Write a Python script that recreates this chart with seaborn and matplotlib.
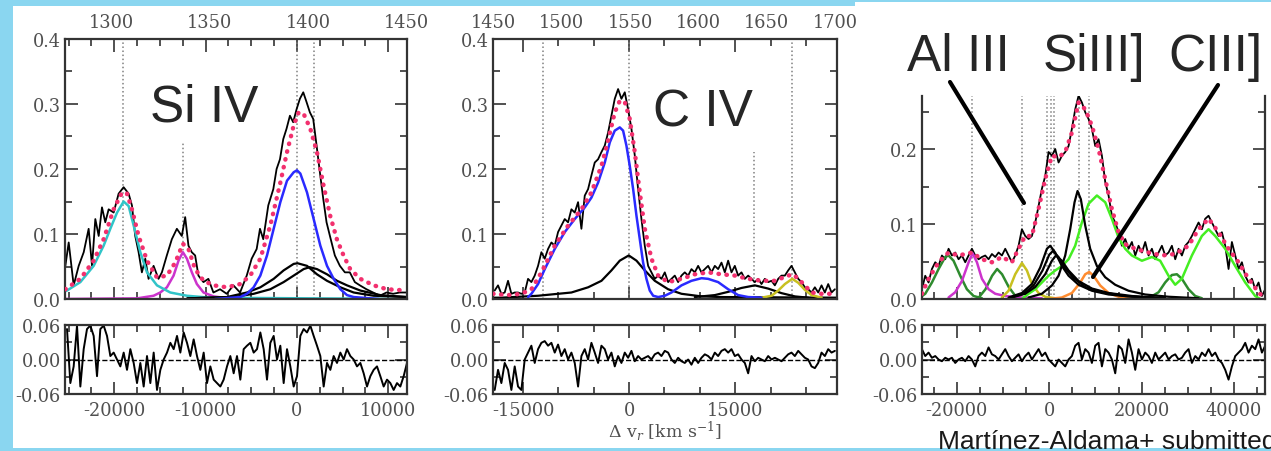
import numpy as np
import matplotlib
matplotlib.use('Agg')
import matplotlib.pyplot as plt
from matplotlib.lines import Line2D
from matplotlib.patches import Rectangle
from matplotlib.ticker import MultipleLocator, FormatStrFormatter
import seaborn as sns

sns.set_style('ticks')
plt.rcParams['font.family'] = ['DejaVu Serif']
plt.rcParams['mathtext.fontset'] = 'dejavuserif'
plt.rcParams['axes.unicode_minus'] = False

C_KMS = 299792.458
W, H = 1271, 452

# ---------------- Si IV panel (velocity km/s, flux) ----------------
si_obs_v = [-25360, -24995, -24450, -23900, -23350, -22810, -22440, -22080, -21710, -21350,
            -20990, -20620, -20070, -19530, -18980, -18430, -18070, -17710, -17340, -16980,
            -16610, -16250, -15700, -15160, -14790, -14250, -13700, -13150, -12610, -12240,
            -11880, -11520, -11150, -10790, -10240, -9700, -9150, -8420, -7690, -6960,
            -6230, -5500, -4960, -4410, -4050, -3690, -3140, -2590, -2230, -1860,
            -1500, -1140, -770, -410, -40, 320, 690, 1050, 1420, 1780,
            2150, 2510, 2880, 3240, 3610, 4150, 4700, 5250, 5790, 6340,
            6890, 7610, 8340, 9070, 9800, 10530, 11260, 11990]
si_obs_f = [0.051, 0.087, 0.021, 0.051, 0.072, 0.108, 0.051, 0.123, 0.097, 0.141,
            0.118, 0.138, 0.133, 0.162, 0.172, 0.162, 0.144, 0.097, 0.072, 0.041,
            0.062, 0.031, 0.051, 0.031, 0.041, 0.067, 0.092, 0.108, 0.097, 0.126,
            0.082, 0.072, 0.067, 0.036, 0.026, 0.031, 0.010, 0.015, 0.008, 0.021,
            0.010, 0.036, 0.062, 0.077, 0.108, 0.092, 0.144, 0.169, 0.200, 0.215,
            0.246, 0.262, 0.282, 0.272, 0.292, 0.308, 0.318, 0.303, 0.287, 0.277,
            0.236, 0.195, 0.154, 0.118, 0.097, 0.067, 0.051, 0.041, 0.041, 0.026,
            0.021, 0.015, 0.010, 0.005, 0.010, 0.008, 0.010, 0.010]
si_res = [0.053, -0.041, -0.012, 0.059, -0.047, 0.018, 0.053, 0.059, 0.041, -0.029,
          0.053, 0.059, 0.041, 0.006, 0.012, 0.0, -0.012, 0.012, -0.018, 0.018,
          -0.006, -0.041, -0.006, -0.047, 0.006, -0.041, 0.012, -0.053, -0.018, 0.0,
          0.012, 0.029, 0.018, 0.041, 0.012, 0.047, 0.029, 0.006, 0.035, 0.006,
          -0.018, 0.012, -0.041, -0.012, -0.035, -0.041, -0.047, -0.035, -0.012, 0.006,
          -0.024, 0.006, -0.035, 0.018, 0.024, 0.029, 0.012, 0.018, 0.047, 0.018,
          -0.035, 0.029, 0.041, 0.0, 0.024, -0.041, 0.018, -0.012, -0.047, -0.029,
          0.041, 0.053, 0.047, 0.059, 0.041, 0.024, 0.006, -0.047, -0.006, -0.018,
          0.006, -0.006, 0.012, 0.0, 0.018, 0.006, 0.0, -0.012, -0.006, -0.024,
          -0.047, -0.029, -0.018, -0.012, -0.029, -0.047, -0.035, -0.041, -0.053, -0.041,
          -0.047, -0.029, -0.006]
si_cyan_v = [-25900, -25180, -23720, -22260, -21170, -20440, -19700, -18980, -18430, -17880,
             -17150, -16420, -15330, -13870, -12050, -9500, 12050]
si_cyan_f = [0.010, 0.013, 0.026, 0.051, 0.082, 0.108, 0.133, 0.150, 0.143, 0.113,
             0.072, 0.041, 0.021, 0.010, 0.005, 0.002, 0.0]
si_mag_v = [-25900, -17500, -15700, -14970, -14240, -13510, -12970, -12490, -12050, -11510,
            -10960, -10230, -9130, -7000]
si_mag_f = [0.0, 0.001, 0.005, 0.010, 0.018, 0.036, 0.059, 0.072, 0.062, 0.041,
            0.023, 0.010, 0.004, 0.0]
si_blue_v = [-9000, -6210, -5480, -4740, -4010, -3280, -2550, -1820, -1090, -360,
             0, 370, 1100, 1830, 2560, 3290, 4020, 4750, 5480, 6210, 9000]
si_blue_f = [0.0, 0.003, 0.008, 0.018, 0.036, 0.067, 0.108, 0.149, 0.182, 0.195,
             0.198, 0.193, 0.164, 0.123, 0.082, 0.051, 0.031, 0.015, 0.006, 0.003, 0.0]
si_blk1_v = [-12000, -7670, -5480, -4010, -2550, -1460, -360, 70, 1100, 2190,
             3290, 4750, 6210, 8400, 12050]
si_blk1_f = [0.001, 0.003, 0.010, 0.018, 0.031, 0.044, 0.054, 0.055, 0.051, 0.038,
             0.028, 0.018, 0.010, 0.005, 0.003]
si_blk2_v = [-12000, -6940, -4740, -2920, -1460, -360, 730, 1390, 2190, 3290,
             4390, 5480, 6940, 9130, 12050]
si_blk2_f = [0.001, 0.003, 0.008, 0.015, 0.026, 0.036, 0.046, 0.049, 0.046, 0.038,
             0.028, 0.021, 0.013, 0.006, 0.003]
si_fit_v = [-25360, -23720, -22260, -21170, -20070, -19160, -18610, -18070, -17340, -16420,
            -15330, -14240, -13330, -12490, -11880, -11150, -10230, -9130, -7670, -6210,
            -5120, -4010, -2920, -1820, -1090, -360, 180, 730, 1460, 2190,
            2920, 3640, 4370, 5100, 5830, 6940, 8400, 9860, 12050]
si_fit_f = [0.015, 0.031, 0.059, 0.092, 0.138, 0.164, 0.162, 0.138, 0.097, 0.059,
            0.033, 0.036, 0.056, 0.085, 0.077, 0.046, 0.028, 0.021, 0.018, 0.023,
            0.036, 0.062, 0.113, 0.179, 0.226, 0.267, 0.287, 0.285, 0.262, 0.226,
            0.174, 0.128, 0.092, 0.067, 0.046, 0.031, 0.021, 0.015, 0.013]
si_marks = [-19000, -12500, 0, 1900]
si_marks_top = [0.4, 0.24, 0.4, 0.4]
si_wave_ticks = [1300, 1350, 1400, 1450]

# ---------------- C IV panel ----------------
c4_obs_f = [0.013, 0.021, 0.008, 0.010, 0.028, 0.008, 0.010, 0.010, 0.008, 0.010,
            0.031, 0.026, 0.036, 0.051, 0.072, 0.062, 0.077, 0.087, 0.082, 0.103,
            0.113, 0.123, 0.118, 0.138, 0.133, 0.149, 0.108, 0.159, 0.169, 0.190,
            0.210, 0.215, 0.226, 0.236, 0.256, 0.282, 0.308, 0.323, 0.308, 0.318,
            0.292, 0.262, 0.221, 0.169, 0.123, 0.082, 0.051, 0.041, 0.031, 0.036,
            0.031, 0.041, 0.026, 0.031, 0.036, 0.026, 0.036, 0.041, 0.036, 0.046,
            0.041, 0.051, 0.041, 0.046, 0.051, 0.041, 0.051, 0.046, 0.056, 0.041,
            0.059, 0.041, 0.051, 0.036, 0.041, 0.031, 0.036, 0.031, 0.026, 0.031,
            0.023, 0.031, 0.026, 0.028, 0.021, 0.031, 0.036, 0.036, 0.044, 0.051,
            0.041, 0.031, 0.026, 0.018, 0.015, 0.010, 0.018, 0.010, 0.021, 0.010,
            0.023, 0.010, 0.015]
c4_res = [-0.053, -0.018, -0.041, -0.006, -0.018, -0.053, -0.012, -0.047, -0.053, 0.0,
          0.012, 0.024, -0.006, 0.018, 0.029, 0.032, 0.024, 0.029, 0.012, 0.026,
          0.006, 0.018, 0.0, 0.012, -0.006, -0.047, 0.006, 0.018, 0.0, 0.029,
          0.012, -0.006, 0.024, 0.018, 0.0, 0.012, -0.012, 0.006, -0.006, 0.012,
          0.003, 0.015, -0.003, 0.006, 0.0, 0.003, 0.006, 0.0, 0.009, 0.012,
          0.006, 0.015, 0.012, 0.0, -0.006, 0.003, -0.003, -0.006, 0.0, -0.009,
          0.003, -0.006, 0.003, 0.009, 0.006, 0.0, 0.012, 0.006, 0.015, 0.018,
          0.012, 0.018, 0.006, 0.009, 0.0, -0.006, -0.024, 0.006, -0.003, 0.003,
          0.0, -0.003, 0.006, 0.0, 0.003, 0.0, -0.003, 0.003, 0.009, 0.012,
          0.006, 0.015, 0.009, 0.003, 0.0, -0.012, -0.015, -0.006, 0.012, 0.006,
          0.018, 0.012, 0.015]
c4_blue_v = [-14290, -13820, -12880, -11930, -10520, -9100, -7690, -6270, -5330, -4390,
             -3440, -2730, -2030, -1320, -850, -380, 90, 570, 1040, 1510,
             1980, 2450, 2920, 3400, 4110, 5050, 5990, 7410, 8820, 10240,
             11180, 12590, 14010, 15420, 16840, 18730]
c4_blue_f = [0.003, 0.008, 0.023, 0.046, 0.077, 0.103, 0.123, 0.141, 0.156, 0.179,
             0.210, 0.241, 0.259, 0.264, 0.259, 0.236, 0.205, 0.169, 0.128, 0.092,
             0.056, 0.031, 0.013, 0.005, 0.003, 0.005, 0.010, 0.021, 0.028, 0.032,
             0.031, 0.026, 0.015, 0.006, 0.003, 0.002]
c4_blk1_v = [-19300, -18070, -12880, -8160, -5800, -3910, -2500, -1320, -50, 1040,
             2220, 3630, 5520, 7410, 10240, 13070, 29500]
c4_blk1_f = [0.002, 0.002, 0.005, 0.010, 0.018, 0.028, 0.044, 0.059, 0.067, 0.059,
             0.044, 0.028, 0.015, 0.008, 0.004, 0.003, 0.002]
c4_blk2_v = [9290, 12120, 14010, 15900, 17780, 19670, 21560, 23450, 25330]
c4_blk2_f = [0.003, 0.006, 0.011, 0.017, 0.021, 0.016, 0.009, 0.004, 0.002]
c4_yel_v = [18730, 20150, 21090, 22030, 23070, 23920, 24860, 25800, 27220]
c4_yel_f = [0.002, 0.005, 0.013, 0.023, 0.031, 0.025, 0.014, 0.006, 0.002]
c4_fit_v = [-19240, -17130, -15230, -13820, -12400, -10520, -8630, -6740, -5330, -3910,
            -2970, -2030, -1320, -610, 90, 800, 1510, 2220, 3160, 4110,
            5520, 7410, 9290, 11180, 13070, 14950, 16840, 18730, 20620, 22500,
            23210, 24390, 25800, 27220, 29100]
c4_fit_f = [0.008, 0.006, 0.008, 0.015, 0.041, 0.082, 0.113, 0.138, 0.164, 0.205,
            0.244, 0.287, 0.305, 0.303, 0.277, 0.226, 0.164, 0.108, 0.062, 0.036,
            0.026, 0.031, 0.038, 0.041, 0.038, 0.036, 0.031, 0.028, 0.028, 0.036,
            0.038, 0.026, 0.010, 0.008, 0.008]
c4_marks = [-12170, 0, 17700, 23070]
c4_marks_top = [0.4, 0.4, 0.226, 0.4]
c4_wave_ticks = [1450, 1500, 1550, 1600, 1650, 1700]

# ---------------- Al III / Si III] / C III] panel ----------------
c3_obs_f = [0.013, 0.031, 0.022, 0.040, 0.049, 0.044, 0.058, 0.053, 0.067, 0.058,
            0.062, 0.053, 0.058, 0.049, 0.058, 0.067, 0.058, 0.053, 0.056, 0.058,
            0.053, 0.060, 0.056, 0.062, 0.058, 0.067, 0.058, 0.049, 0.058, 0.071,
            0.093, 0.084, 0.080, 0.084, 0.102, 0.124, 0.147, 0.164, 0.196, 0.191,
            0.200, 0.182, 0.191, 0.196, 0.204, 0.227, 0.253, 0.271, 0.262, 0.249,
            0.240, 0.227, 0.204, 0.213, 0.191, 0.156, 0.138, 0.111, 0.102, 0.089,
            0.071, 0.080, 0.067, 0.076, 0.058, 0.071, 0.062, 0.076, 0.058, 0.067,
            0.053, 0.062, 0.071, 0.058, 0.062, 0.071, 0.053, 0.067, 0.058, 0.071,
            0.076, 0.084, 0.093, 0.102, 0.093, 0.107, 0.111, 0.102, 0.093, 0.084,
            0.089, 0.071, 0.040, 0.076, 0.058, 0.040, 0.049, 0.031, 0.022, 0.027,
            0.013, 0.022, 0.004, 0.013]
c3_res = [0.018, 0.006, 0.012, 0.003, 0.006, 0.0, -0.003, 0.003, 0.0, 0.003,
          -0.006, 0.0, 0.003, -0.003, 0.006, 0.0, -0.012, 0.006, 0.012, 0.006,
          0.021, 0.009, 0.006, 0.0, 0.009, 0.018, 0.006, -0.003, 0.003, 0.009,
          -0.003, 0.006, 0.012, 0.0, 0.009, 0.018, 0.006, 0.012, 0.0, -0.006,
          -0.012, 0.0, -0.006, -0.012, 0.0, 0.006, 0.024, 0.029, 0.0, 0.018,
          0.012, -0.006, 0.024, 0.029, -0.012, 0.018, 0.012, 0.0, -0.024, 0.024,
          0.018, -0.006, 0.035, 0.012, -0.018, 0.018, 0.0, 0.012, 0.006, -0.006,
          0.012, 0.0, 0.006, 0.012, 0.0, 0.006, 0.009, 0.0, 0.003, 0.012,
          0.018, -0.006, 0.006, 0.0, 0.012, 0.006, 0.018, 0.006, 0.012, 0.0,
          -0.006, -0.018, -0.035, -0.012, 0.006, 0.012, 0.018, 0.029, 0.012, 0.024,
          0.018, 0.035, 0.012, 0.024]
c3_dg1_v = [-27750, -26840, -25390, -23950, -22510, -21790, -20710, -19260, -17820, -16370, -14570]
c3_dg1_f = [0.003, 0.007, 0.022, 0.040, 0.056, 0.058, 0.051, 0.031, 0.013, 0.004, 0.001]
c3_dg2_v = [-15250, -13800, -12360, -11280, -10210, -8760, -7320, -5880]
c3_dg2_f = [0.002, 0.013, 0.031, 0.040, 0.033, 0.016, 0.004, 0.001]
c3_dg3_v = [21500, 23670, 25100, 26550, 27630, 28710, 30160, 31600, 33040]
c3_dg3_f = [0.001, 0.009, 0.022, 0.032, 0.033, 0.027, 0.013, 0.004, 0.001]
c3_mag_v = [-21790, -20350, -18900, -17450, -16590, -15650, -14570, -13120, -11690, -9520, -5910, -1590]
c3_mag_f = [0.002, 0.009, 0.024, 0.049, 0.061, 0.049, 0.027, 0.013, 0.007, 0.004, 0.002, 0.001]
c3_yel_v = [-10240, -8800, -7360, -5910, -4830, -3750, -2310, -870, 1300]
c3_yel_f = [0.002, 0.011, 0.033, 0.048, 0.038, 0.020, 0.008, 0.003, 0.001]
c3_blka_v = [-8800, -5910, -3750, -1950, -500, 210, 1300, 2740, 4190, 6350, 9240, 12850, 17890, 25100]
c3_blka_f = [0.002, 0.008, 0.020, 0.042, 0.067, 0.071, 0.062, 0.044, 0.031, 0.019, 0.011, 0.006, 0.003, 0.001]
c3_blkb_v = [-8080, -5200, -3030, -870, 580, 1450, 2740, 4190, 6350, 9240, 12850, 17890, 25100]
c3_blkb_f = [0.002, 0.007, 0.016, 0.033, 0.051, 0.058, 0.051, 0.038, 0.024, 0.014, 0.008, 0.004, 0.001]
c3_blkc_v = [-8440, -5550, -3390, -1450, 0, 790, 2010, 3460, 5260, 7790, 11400, 16450, 24390]
c3_blkc_f = [0.002, 0.007, 0.018, 0.038, 0.059, 0.064, 0.056, 0.041, 0.028, 0.016, 0.009, 0.004, 0.001]
c3_blkd_v = [-4470, -1590, 580, 2020, 3460, 4540, 5480, 6130, 6850, 7790,
             8870, 10320, 12120, 14280, 17170, 20770, 25830, 32320]
c3_blkd_f = [0.002, 0.007, 0.018, 0.031, 0.058, 0.093, 0.129, 0.144, 0.133, 0.098,
             0.067, 0.044, 0.029, 0.019, 0.011, 0.006, 0.003, 0.001]
c3_org_v = [-140, 2740, 4910, 6710, 7790, 8660, 9590, 11040, 12850, 15010, 17890]
c3_org_f = [0.0, 0.002, 0.008, 0.022, 0.033, 0.036, 0.031, 0.018, 0.008, 0.003, 0.0]
c3_lime_v = [-5910, -4470, -3030, -1590, -140, 1300, 2740, 4190, 5620, 7070,
             8520, 10320, 12120, 13560, 15010, 16450, 17890, 20060, 22220, 24020,
             25830, 27270, 28710, 30880, 33040, 34490, 35930, 38100, 40260, 42430,
             44590, 45670]
c3_lime_f = [0.0, 0.007, 0.013, 0.022, 0.031, 0.038, 0.044, 0.053, 0.071, 0.102,
             0.127, 0.138, 0.129, 0.107, 0.082, 0.067, 0.058, 0.051, 0.056, 0.051,
             0.031, 0.019, 0.027, 0.058, 0.084, 0.093, 0.084, 0.067, 0.044, 0.022,
             0.004, 0.0]
c3_fit_v = [-27560, -26110, -23950, -21790, -19630, -16740, -14570, -12410, -10240, -8080,
            -6640, -5200, -3750, -2310, -870, 580, 2010, 3460, 4910, 6350,
            7790, 9240, 10680, 12120, 13560, 15010, 16450, 18610, 21500, 24390,
            27270, 30160, 32320, 34490, 36650, 38820, 40980, 43140, 45310, 46390]
c3_fit_f = [0.007, 0.027, 0.049, 0.062, 0.058, 0.062, 0.053, 0.049, 0.056, 0.049,
            0.067, 0.084, 0.084, 0.120, 0.160, 0.191, 0.189, 0.196, 0.222, 0.262,
            0.253, 0.231, 0.200, 0.160, 0.120, 0.089, 0.073, 0.067, 0.062, 0.058,
            0.060, 0.071, 0.093, 0.107, 0.089, 0.067, 0.049, 0.027, 0.009, 0.002]
c3_marks = [-16610, -5890, -430, 320, 1070, 6430, 8680]

# velocity grids of the evenly sampled spectra / residuals
si_res_v = np.linspace(-25180, 12050, len(si_res))
c4_obs_v = np.linspace(-19010, 29100, len(c4_obs_f))
c4_res_v = np.linspace(-19010, 29100, len(c4_res))
c3_obs_v = np.linspace(-27560, 46760, len(c3_obs_f))
c3_res_v = np.linspace(-27560, 46760, len(c3_res))

TICK_COL = '#505050'
PINK = '#f2306e'


def box(x0, y0, x1, y1):
    return [x0 / W, 1 - y1 / H, (x1 - x0) / W, (y1 - y0) / H]


def style(ax, xmaj, xmin, ymaj, ymin, yfmt):
    ax.set_facecolor('white')
    ax.xaxis.set_major_locator(MultipleLocator(xmaj))
    ax.xaxis.set_minor_locator(MultipleLocator(xmin))
    ax.yaxis.set_major_locator(MultipleLocator(ymaj))
    ax.yaxis.set_minor_locator(MultipleLocator(ymin))
    ax.yaxis.set_major_formatter(FormatStrFormatter(yfmt))
    ax.tick_params(which='both', direction='in', top=True, right=True,
                   color='#333333', labelcolor=TICK_COL, labelsize=12.8, width=1.2, pad=3)
    ax.tick_params(which='major', length=9)
    ax.tick_params(which='minor', length=5)
    for s in ax.spines.values():
        s.set_linewidth(1.6)
        s.set_color('#333333')
    ax.set_xlabel('')
    ax.set_ylabel('')


def line(ax, v, f, color, lw=1.8, **kw):
    sns.lineplot(x=v, y=f, ax=ax, color=color, lw=lw, legend=False, sort=False, **kw)


def fit(ax, v, f):
    sns.lineplot(x=v, y=f, ax=ax, color=PINK, lw=3.2, legend=False, sort=False,
                 linestyle=(0, (0.1, 1.7)), dash_capstyle='round', zorder=5)


def residual(ax, v, r, xlim, xmaj, xmin):
    style(ax, xmaj, xmin, 0.06, 0.03, '%.2f')
    ax.axhline(0, color='black', ls='--', lw=1.0)
    line(ax, v, r, 'black', lw=1.4)
    ax.set_xlim(*xlim)
    ax.set_ylim(-0.06, 0.06)
    ax.xaxis.set_major_formatter(FormatStrFormatter('%d'))
    ax.tick_params(axis='x', pad=5)
    ax.set_xlabel('')
    ax.set_ylabel('')


def wave_axis(ax, lam0, ticks):
    sec = ax.secondary_xaxis('top', functions=(lambda v: lam0 * (1 + v / C_KMS),
                                               lambda lam: (lam / lam0 - 1) * C_KMS))
    sec.set_xticks(ticks)
    sec.xaxis.set_major_formatter(FormatStrFormatter('%d'))
    sec.tick_params(length=0, pad=6, labelsize=12.8, labelcolor=TICK_COL)
    for s in sec.spines.values():
        s.set_visible(False)


def marks(ax, vs, tops, ymax):
    for v, t in zip(vs, tops):
        ax.axvline(v, ymax=t / ymax, color='#808080', ls=':', lw=1.1, zorder=1)


fig = plt.figure(figsize=(W / 100, H / 100), dpi=100)
fig.patch.set_facecolor('#8ad6f0')
fig.add_artist(Rectangle((13 / W, 1 - 449 / H), (W - 13) / W, 442 / H,
                         transform=fig.transFigure, facecolor='white', edgecolor='none', zorder=-5))
fig.add_artist(Rectangle((855 / W, 1 - 449 / H), (W - 855) / W, 446 / H,
                         transform=fig.transFigure, facecolor='white', edgecolor='none', zorder=-5))

# ---- Si IV ----
ax1 = fig.add_axes(box(65, 40, 407, 300))
style(ax1, 10000, 2500, 0.1, 0.05, '%.1f')
marks(ax1, si_marks, si_marks_top, 0.4)
line(ax1, si_obs_v, si_obs_f, 'black', lw=1.3)
line(ax1, si_mag_v, si_mag_f, '#cc33cc')
line(ax1, si_cyan_v, si_cyan_f, '#30c4c8')
line(ax1, si_blk1_v, si_blk1_f, 'black', lw=1.6)
line(ax1, si_blk2_v, si_blk2_f, 'black', lw=1.6)
line(ax1, si_blue_v, si_blue_f, '#2a2aff')
fit(ax1, si_fit_v, si_fit_f)
ax1.set_xlim(-25400, 12050)
ax1.set_ylim(0, 0.4)
ax1.tick_params(axis='x', labelbottom=False)
wave_axis(ax1, 1394.3, si_wave_ticks)

r1 = fig.add_axes(box(65, 326, 407, 395))
residual(r1, si_res_v, si_res, (-25400, 12050), 10000, 2500)

# ---- C IV ----
ax2 = fig.add_axes(box(493, 40, 837, 300))
style(ax2, 15000, 5000, 0.1, 0.05, '%.1f')
marks(ax2, c4_marks, c4_marks_top, 0.4)
line(ax2, c4_obs_v, c4_obs_f, 'black', lw=1.3)
line(ax2, c4_blk1_v, c4_blk1_f, 'black', lw=1.6)
line(ax2, c4_blk2_v, c4_blk2_f, 'black', lw=1.6)
line(ax2, c4_yel_v, c4_yel_f, '#c8c020')
line(ax2, c4_blue_v, c4_blue_f, '#2a2aff')
fit(ax2, c4_fit_v, c4_fit_f)
ax2.set_xlim(-19250, 29400)
ax2.set_ylim(0, 0.4)
ax2.tick_params(axis='x', labelbottom=False)
wave_axis(ax2, 1549.3, c4_wave_ticks)

r2 = fig.add_axes(box(493, 326, 837, 395))
residual(r2, c4_res_v, c4_res, (-19250, 29400), 15000, 5000)

# ---- Al III / Si III] / C III] ----
top3 = (300 - 97) / 750
ax3 = fig.add_axes(box(922, 97, 1265, 300))
style(ax3, 20000, 5000, 0.1, 0.05, '%.1f')
ax3.spines['top'].set_visible(False)
ax3.tick_params(which='both', top=False)
marks(ax3, c3_marks, [top3] * len(c3_marks), top3)
line(ax3, c3_obs_v, c3_obs_f, 'black', lw=1.3)
line(ax3, c3_dg1_v, c3_dg1_f, '#2e8b2e')
line(ax3, c3_dg2_v, c3_dg2_f, '#2e8b2e')
line(ax3, c3_dg3_v, c3_dg3_f, '#2e8b2e')
line(ax3, c3_mag_v, c3_mag_f, '#cc33cc')
line(ax3, c3_yel_v, c3_yel_f, '#c8c020')
line(ax3, c3_lime_v, c3_lime_f, '#44ee22')
line(ax3, c3_org_v, c3_org_f, '#ff8c30')
line(ax3, c3_blka_v, c3_blka_f, 'black', lw=1.6)
line(ax3, c3_blkb_v, c3_blkb_f, 'black', lw=1.6)
line(ax3, c3_blkc_v, c3_blkc_f, 'black', lw=1.6)
line(ax3, c3_blkd_v, c3_blkd_f, 'black', lw=1.6)
fit(ax3, c3_fit_v, c3_fit_f)
ax3.set_xlim(-27540, 46710)
ax3.set_ylim(0, top3)
ax3.tick_params(axis='x', labelbottom=False)

r3 = fig.add_axes(box(922, 326, 1265, 395))
residual(r3, c3_res_v, c3_res, (-27540, 46710), 20000, 5000)

# ---- annotations ----
sans = ['Liberation Sans', 'DejaVu Sans']
fig.text(150 / W, 1 - 122 / H, 'Si IV', fontsize=37, family=sans, va='baseline', ha='left')
fig.text(653 / W, 1 - 127 / H, 'C IV', fontsize=37, family=sans, va='baseline', ha='left')
fig.text(907 / W, 1 - 71 / H, 'Al III', fontsize=37, family=sans, va='baseline', ha='left')
fig.text(1043 / W, 1 - 71 / H, 'SiIII]', fontsize=37, family=sans, va='baseline', ha='left')
fig.text(1168 / W, 1 - 71 / H, 'CIII]', fontsize=37, family=sans, va='baseline', ha='left')
fig.add_artist(Line2D([950 / W, 1024 / W], [1 - 83 / H, 1 - 204 / H],
                      transform=fig.transFigure, color='black', lw=3.0))
fig.add_artist(Line2D([1218 / W, 1093 / W], [1 - 86 / H, 1 - 278 / H],
                      transform=fig.transFigure, color='black', lw=3.0))
fig.text(665 / W, 1 - 431 / H, r'$\Delta$ v$_{r}$ [km s$^{-1}$]', fontsize=12.5,
         color=TICK_COL, ha='center', va='center')
fig.text(938 / W, 1 - 449 / H, 'Martínez-Aldama+ submitted', fontsize=19,
         family=sans, color='#1a1a1a', va='baseline', ha='left')

fig.savefig('out.png', dpi=100, facecolor=fig.get_facecolor())
